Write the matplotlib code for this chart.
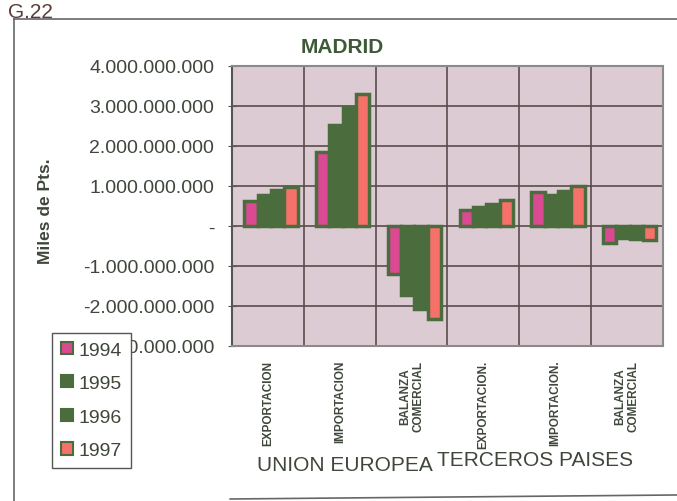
import matplotlib
matplotlib.use("Agg")
import matplotlib.pyplot as plt
import numpy as np
from matplotlib.lines import Line2D
from matplotlib.ticker import FuncFormatter

plt.rcParams['font.family'] = ['Liberation Sans', 'DejaVu Sans']

# datos (miles de pts.)
categories = ['EXPORTACION', 'IMPORTACION', 'BALANZA\nCOMERCIAL',
              'EXPORTACION.', 'IMPORTACION.', 'BALANZA\nCOMERCIAL']
years = ['1994', '1995', '1996', '1997']
v1994 = [0.62e9, 1.85e9, -1.20e9, 0.40e9, 0.85e9, -0.42e9]
v1995 = [0.78e9, 2.52e9, -1.73e9, 0.47e9, 0.77e9, -0.30e9]
v1996 = [0.89e9, 2.97e9, -2.08e9, 0.54e9, 0.88e9, -0.34e9]
v1997 = [0.97e9, 3.30e9, -2.32e9, 0.65e9, 1.00e9, -0.35e9]
groups = ['UNION EUROPEA', 'TERCEROS PAISES']

text_col = '#3f473b'
green = '#4b6d3d'
colors = ['#d94a92', green, green, '#f7716b']

fig = plt.figure(figsize=(6.77, 5.02), dpi=100)
ax = fig.add_axes([0.343, 0.309, 0.636, 0.558])
ax.set_facecolor('#ddcbd4')

x = np.arange(len(categories))
w = 0.185
for i, vals in enumerate([v1994, v1995, v1996, v1997]):
    ax.bar(x + (i - 1.5) * w + 0.04, vals, width=w, color=colors[i],
           edgecolor=green, linewidth=2.5, label=years[i], zorder=3)

ax.set_xlim(-0.5, len(categories) - 0.5)
ax.set_ylim(-3e9, 4e9)
ax.set_yticks(np.arange(-3e9, 4.01e9, 1e9))
ax.yaxis.set_major_formatter(FuncFormatter(
    lambda v, p: '-' if abs(v) < 1 else f"{v:,.0f}".replace(',', '.')))
ax.set_xticks(x)
ax.set_xticklabels(categories, rotation=90, fontsize=8.5, fontweight='bold',
                   color=text_col, va='top', linespacing=1.1)
ax.set_xticks(np.arange(0.5, len(categories) - 0.5), minor=True)
ax.tick_params(axis='x', which='both', length=0, pad=10)
ax.tick_params(axis='y', labelsize=14, labelcolor=text_col, length=6,
               direction='inout', color='#555555', pad=10)

ax.grid(True, which='major', axis='y', color='#5a4c4c', linewidth=1.2, zorder=0)
ax.grid(True, which='minor', axis='x', color='#5a4c4c', linewidth=1.2, zorder=0)
ax.set_axisbelow(True)
for s in ax.spines.values():
    s.set_color('#8a8a8a')
    s.set_linewidth(1.5)
ax.spines['left'].set_color('#555555')

ax.set_title('MADRID', fontsize=15, fontweight='bold', color='#3d5a36',
             x=0.255, pad=10)
fig.text(0.067, 0.58, 'Miles de Pts.', rotation=90, ha='center', va='center',
         fontsize=12.5, fontweight='bold', color=text_col)

fig.text(0.51, 0.073, groups[0], ha='center', va='center', fontsize=15,
         color=text_col)
fig.text(0.79, 0.083, groups[1], ha='center', va='center', fontsize=15,
         color=text_col)

leg = fig.legend(loc='upper left', bbox_to_anchor=(0.077, 0.335),
                 fontsize=14, frameon=True, fancybox=False, edgecolor='#555555',
                 framealpha=1, handlelength=0.6, handleheight=0.6,
                 handletextpad=0.3, labelspacing=0.85, borderpad=0.45,
                 borderaxespad=0)
for t in leg.get_texts():
    t.set_color(text_col)
for h in leg.legend_handles:
    h.set_linewidth(1.5)

# marco y anotacion del documento escaneado
fig.add_artist(Line2D([0.02, 0.02], [0.0, 0.96], color='#666666', lw=1.2))
fig.add_artist(Line2D([0.02, 1.0], [0.96, 0.96], color='#666666', lw=1.2))
fig.add_artist(Line2D([0.34, 1.0], [0.004, 0.012], color='#666666', lw=1.2))
fig.text(0.012, 0.975, 'G.22', fontsize=15, color='#5a3d3a', va='center')

fig.savefig('out.png', dpi=100)
